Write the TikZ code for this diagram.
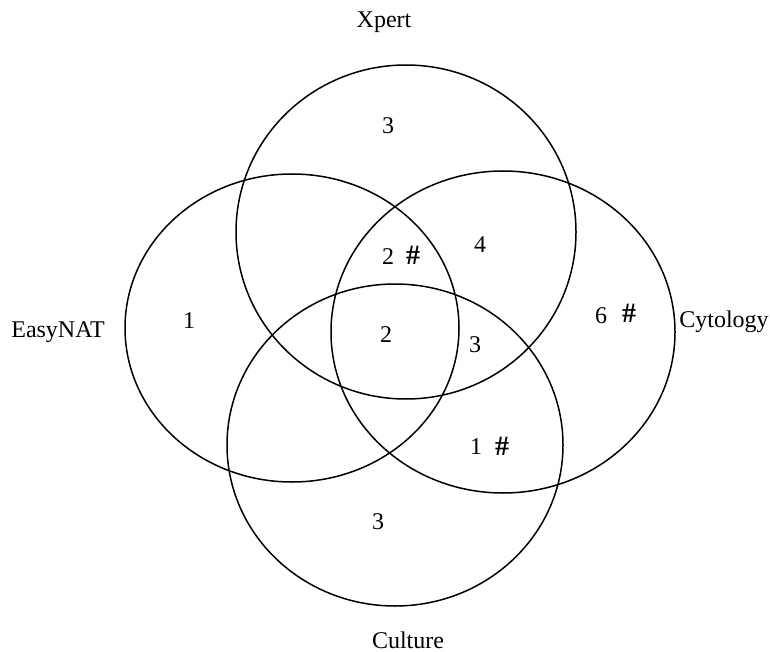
\documentclass[tikz,border=0pt]{standalone}
\usepackage{fontspec}
\setmainfont{Liberation Serif}
\tikzset{
  setline/.style={color=black, line width=1.5pt},
  setname/.style={font=\fontsize{24}{28}\selectfont, inner sep=0pt},
  count/.style={font=\fontsize{24}{28}\selectfont, inner sep=0pt},
}
\newcommand{\hsh}{{\fontsize{28}{32}\selectfont\bfseries\#}}
\begin{document}
\begin{tikzpicture}[x=1pt, y=-1pt]
\useasboundingbox (0,0) rectangle (770,652);
\draw[setline] (406,232) ellipse [x radius=170pt, y radius=167pt];
\draw[setline] (292,328) ellipse [x radius=167pt, y radius=154pt];
\draw[setline] (503,332) ellipse [x radius=172pt, y radius=161pt];
\draw[setline] (395,445) ellipse [x radius=168pt, y radius=161pt];
\node[setname] (xpert) at (384,22) {Xpert};
\node[setname] (easynat) at (58,332) {EasyNAT};
\node[setname] (cytology) at (724,322) {Cytology};
\node[setname] (culture) at (408,640) {Culture};
\node[count] (xonly) at (388,126) {3};
\node[count] (xcy) at (480,245) {4};
\node[count] (xecy) at (388,257) {2};
\node[count] (xecyh) at (413,255) {\hsh};
\node[count] (eonly) at (189,321) {1};
\node[count] (cyonly) at (601,316) {6};
\node[count] (cyonlyh) at (629,313) {\hsh};
\node[count] (all) at (386,335) {2};
\node[count] (xcycu) at (475,345) {3};
\node[count] (cycu) at (476,447) {1};
\node[count] (cycuh) at (502,446) {\hsh};
\node[count] (cuonly) at (378,522) {3};
\end{tikzpicture}
\end{document}
